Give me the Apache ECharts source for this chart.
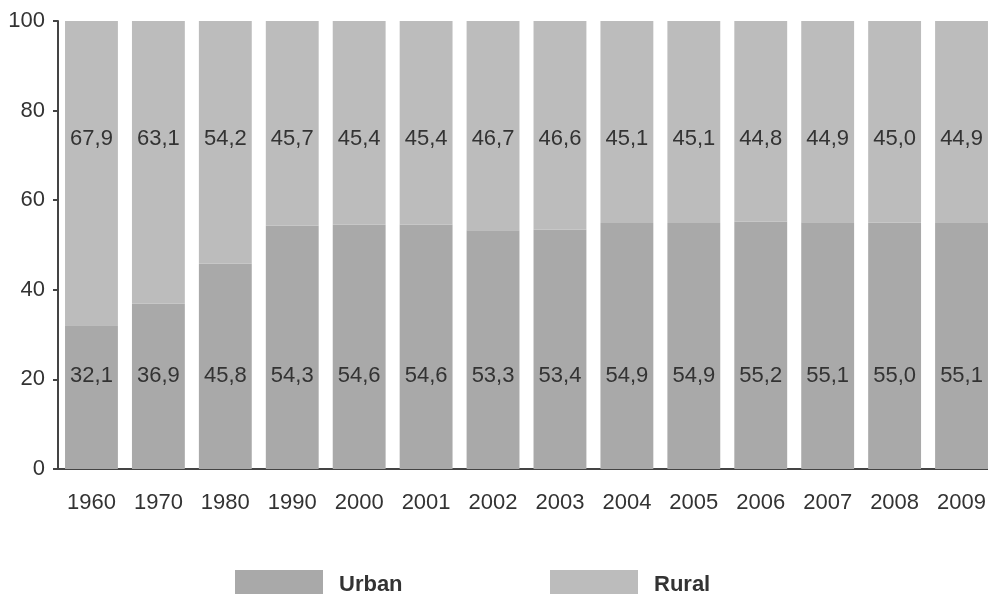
<!DOCTYPE html>
<html><head><meta charset="utf-8">
<script src="https://cdn.jsdelivr.net/npm/echarts@6/dist/echarts.min.js"></script>
<style>html,body{margin:0;padding:0;background:#fff}#c{width:988px;height:594px}</style>
</head><body><div id="c"></div>
<script>
const years = ['1960','1970','1980','1990','2000','2001','2002','2003','2004','2005','2006','2007','2008','2009'];
const urban = [32.1,36.9,45.8,54.3,54.6,54.6,53.3,53.4,54.9,54.9,55.2,55.1,55.0,55.1];
const rural = [67.9,63.1,54.2,45.7,45.4,45.4,46.7,46.6,45.1,45.1,44.8,44.9,45.0,44.9];
const yTicks = [0,20,40,60,80,100];

const FONT = "'Liberation Sans Narrow','Liberation Sans',Arial,sans-serif";
const fmt = p => p.value.toFixed(1).replace('.', ',');
const chart = echarts.init(document.getElementById('c'), null, {renderer:'canvas'});
const legendText = {fontFamily:FONT, fontSize:22, fontWeight:'bold', color:'#333', padding:[0,0,0,11]};
chart.setOption({
  animation:false,
  grid:{left:58, width:937, top:21, bottom:125, containLabel:false, outerBoundsMode:'none'},
  legend:[
    {data:['Urban'], icon:'rect', left:230, top:565, itemWidth:88, itemHeight:30, itemGap:0, textStyle:legendText},
    {data:['Rural'], icon:'rect', left:545, top:565, itemWidth:88, itemHeight:30, itemGap:0, textStyle:legendText}
  ],
  xAxis:{type:'category', data:years,
    axisLine:{lineStyle:{color:'#444', width:2}},
    axisTick:{length:8, lineStyle:{color:'#444', width:2}},
    axisLabel:{fontFamily:FONT, fontSize:22, color:'#333', margin:23}
  },
  yAxis:{type:'value', min:yTicks[0], max:yTicks[yTicks.length-1], interval:20,
    axisLine:{show:true, lineStyle:{color:'#444', width:2}},
    axisTick:{show:true, length:5, lineStyle:{color:'#444', width:2}},
    axisLabel:{fontFamily:FONT, fontSize:22, color:'#333', margin:13},
    splitLine:{show:false}
  },
  series:[
    {name:'Urban', type:'bar', stack:'a', data:urban, barCategoryGap:'21%',
     itemStyle:{color:'#a9a9a9'},
     label:{show:true, position:'insideBottom', distance:82, formatter:fmt,
       fontFamily:FONT, fontSize:22, color:'#333'}},
    {name:'Rural', type:'bar', stack:'a', data:rural, barCategoryGap:'21%',
     itemStyle:{color:'#bcbcbc'},
     label:{show:true, position:'insideTop', distance:107, formatter:fmt,
       fontFamily:FONT, fontSize:22, color:'#333'}}
  ]
});
</script></body></html>
